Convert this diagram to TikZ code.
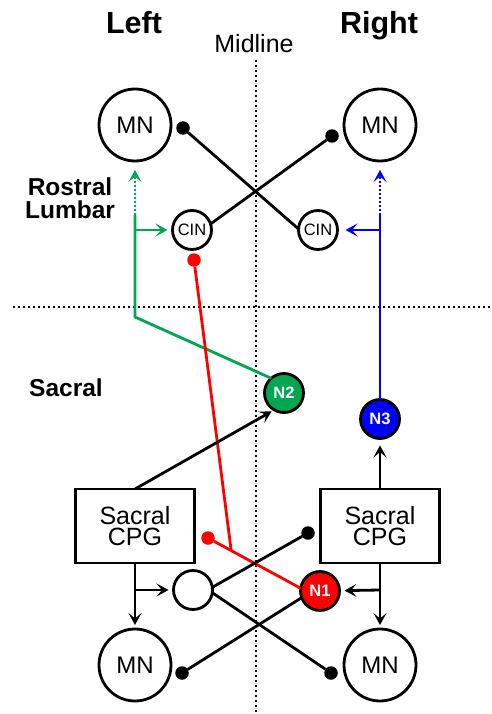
\documentclass[tikz,border=0pt]{standalone}
\usepackage{fontspec}
\setmainfont{Liberation Sans}
\usetikzlibrary{arrows.meta,calc}
\definecolor{ngreen}{RGB}{0,166,80}
\definecolor{nblue}{RGB}{0,0,255}
\definecolor{nred}{RGB}{255,0,0}
\newcommand{\fs}[1]{\fontsize{#1}{#1}\selectfont}
\begin{document}
\begin{tikzpicture}[x=1pt,y=-1pt,
  every node/.style={inner sep=0pt, outer sep=0pt},
  bignrn/.style={circle, draw, line width=2.8pt, fill=white, minimum size=72pt, font=\fs{24}},
  smallnrn/.style={circle, draw, line width=2.8pt, fill=white, minimum size=39pt, font=\fs{16.5}},
  colnrn/.style={smallnrn, fill=#1, text=white, font=\bfseries\fs{16.5}},
  cpgbox/.style={draw, line width=2.8pt, minimum width=119pt, minimum height=74pt, align=center, font=\fontsize{25}{21.5}\selectfont},
  ball/.style={circle, fill=#1, minimum size=13.5pt},
  ball/.default=black,
  wire/.style={line width=2.8pt},
  tip/.style={-{Stealth[length=12pt,width=13pt,inset=5.5pt]}},
  midline/.style={line width=2.4pt, dash pattern=on 2.4pt off 2.6pt},
  fibredots/.style={dash pattern=on 2pt off 2pt},
  heading/.style={font=\bfseries\fs{30.5}, anchor=base},
  region/.style={font=\bfseries\fs{24.5}, align=center}
]
\useasboundingbox (0,0) rectangle (492,714);

% midline and rostral/sacral boundary
\draw[midline] (256,60) -- (256,714);
\draw[midline] (13,307) -- (492,307);

% headings
\node[heading] (hl) at (134,34) {Left};
\node[heading] (hr) at (379,34) {Right};
\node[font=\fs{25}, anchor=base] (hm) at (254,53) {Midline};
\node[region, anchor=base] (rl) at (70,218) {Rostral\\[-1.5pt]Lumbar};
\node[region, anchor=base] (sc) at (66,396) {Sacral};

% rostral lumbar neurons
\node[bignrn] (mnTL) at (135,125) {MN};
\node[bignrn] (mnTR) at (380,125) {MN};
\node[smallnrn] (cinL) at (192,230) {CIN};
\node[smallnrn] (cinR) at (318,230) {CIN};

% sacral neurons
\node[colnrn=ngreen] (n2) at (284,393) {N2};
\node[colnrn=nblue] (n3) at (380,419) {N3};
\node[colnrn=nred] (n1) at (320,591) {N1};
\node[smallnrn] (ec) at (193,590) {};
\node[cpgbox] (cpgL) at (135,526) {Sacral\\CPG};
\node[cpgbox] (cpgR) at (380,526) {Sacral\\CPG};
\node[bignrn] (mnBL) at (135,665) {MN};
\node[bignrn] (mnBR) at (380,665) {MN};

% inhibitory terminals
\node[ball] (bTL) at (183,128) {};
\node[ball] (bTR) at (332,136) {};
\node[ball] (bB1) at (308,533) {};
\node[ball] (bB2) at (331,673) {};
\node[ball] (bB3) at (182,673) {};
\node[ball=nred] (rb1) at (194,260) {};
\node[ball=nred] (rb2) at (208,538) {};

% commissural projections in the rostral lumbar cord
\draw[wire] (cinR.177) -- (bTL);
\draw[wire] (cinL.18) -- (bTR);

% ascending green pathway from N2
\coordinate (gcorner) at (135,317);
\coordinate (gbranch) at (135,230);
\coordinate (gdot) at (135,215);
\draw[wire, ngreen] (n2.131) -- (gcorner) -- (gdot);
\draw[wire, ngreen, fibredots, tip, shorten >=9pt] (gdot) -- (mnTL);
\draw[wire, ngreen, tip, shorten >=5pt] (gbranch) -- (cinL);

% ascending blue pathway from N3
\coordinate (bbranch) at (380,230);
\coordinate (bdot) at (380,215);
\draw[wire, nblue] (n3) -- (bdot);
\draw[wire, nblue, fibredots, tip, shorten >=9pt] (bdot) -- (mnTR);
\draw[wire, nblue, tip, shorten >=8pt] (bbranch) -- (cinR);

% red pathway from N1
\draw[wire, nred] (rb2) -- (n1.172);
\coordinate (rjoin) at ($(rb2)!0.25!(n1.172)$);
\draw[wire, nred] (rb1) -- (rjoin);

% sacral CPG outputs
\draw[wire, tip, shorten >=3pt] (cpgL.north) -- (n2.240);
\draw[wire, tip, shorten >=7pt] (cpgR.north) -- (n3);
\draw[wire, tip, shorten >=4pt] (cpgL.south) -- (mnBL);
\draw[wire, tip, shorten >=4pt] (cpgR.south) -- (mnBR);
\coordinate (lbranch) at (135,590);
\coordinate (rbranch) at (380,590);
\draw[wire, tip, shorten >=5pt] (lbranch) -- (ec);
\draw[wire, tip, shorten >=5pt] (rbranch) -- (n1);

% sacral commissural projections
\draw[wire] (ec.8) -- (bB1);
\draw[wire] (ec.-8) -- (bB2);
\draw[wire] (n1.200) -- (bB3);
\end{tikzpicture}
\end{document}
